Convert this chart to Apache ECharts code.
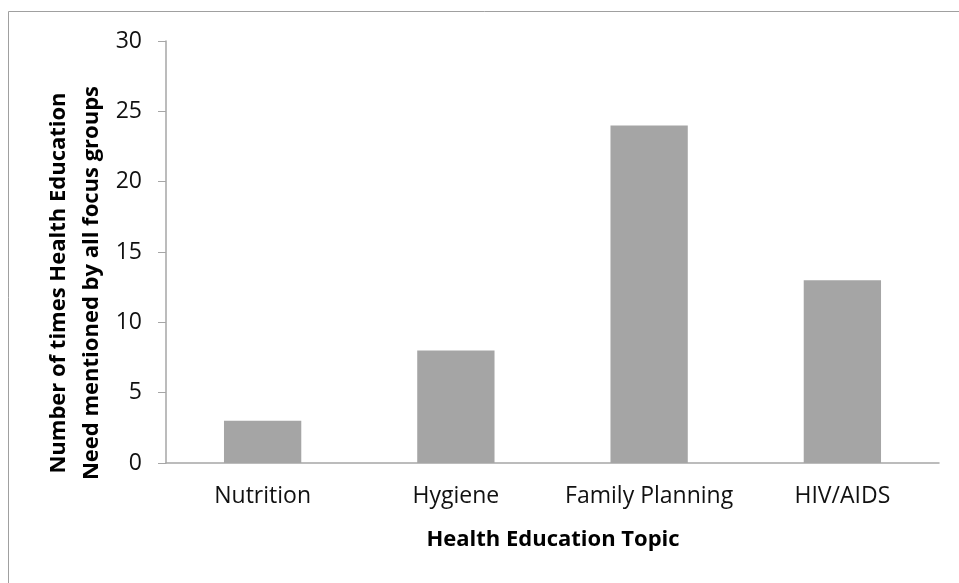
<!DOCTYPE html>
<html>
<head>
<meta charset="utf-8">
<script src="https://cdn.jsdelivr.net/npm/echarts@6/dist/echarts.min.js"></script>
<style>
  html, body { margin: 0; padding: 0; background: #fff; }
  #chart { width: 959px; height: 583px; }
</style>
</head>
<body>
<div id="chart"></div>
<script>
// data
const topics = ['Nutrition', 'Hygiene', 'Family Planning', 'HIV/AIDS']
const timesMentioned = [3, 8, 24, 13]
const yTicks = { min: 0, max: 30, step: 5 }

const xTitle = 'Health Education Topic'
const yTitle = 'Number of times Health Education\nNeed mentioned by all focus groups'

const font = '"Open Sans", "DejaVu Sans", sans-serif'
const axisGray = '#a6a6a6'

const chart = echarts.init(document.getElementById('chart'))

const option = {
  animation: false,
  backgroundColor: '#fff',
  grid: {
    left: 166,
    right: 20,
    top: 41,
    bottom: 120
  },
  xAxis: {
    type: 'category',
    data: topics,
    axisLine: { lineStyle: { color: axisGray, width: 1.5 } },
    axisTick: { show: false },
    axisLabel: {
      interval: 0,
      color: '#111',
      fontFamily: font,
      fontSize: 23,
      margin: 22
    }
  },
  yAxis: {
    type: 'value',
    min: yTicks.min,
    max: yTicks.max,
    interval: yTicks.step,
    splitLine: { show: false },
    axisLine: { show: true, lineStyle: { color: axisGray, width: 1.5 } },
    axisTick: { show: true, length: 8, lineStyle: { color: axisGray } },
    axisLabel: {
      color: '#111',
      fontFamily: font,
      fontSize: 23,
      margin: 24
    }
  },
  series: [{
    type: 'bar',
    data: timesMentioned,
    barCategoryGap: '60%',
    itemStyle: { color: '#a5a5a5' }
  }],
  graphic: [
    {
      // outer frame, open on the right and bottom like the picture
      type: 'rect',
      shape: { x: 8.5, y: 11.5, width: 1000, height: 1000 },
      style: { fill: 'none', stroke: '#a0a0a0', lineWidth: 1 },
      z: -1
    },
    {
      type: 'text',
      x: 553,
      y: 540,
      style: {
        text: xTitle,
        fill: '#000',
        font: 'bold 22px ' + font,
        textAlign: 'center',
        textVerticalAlign: 'middle'
      }
    },
    {
      type: 'text',
      x: 75,
      y: 283,
      rotation: Math.PI / 2,
      style: {
        text: yTitle,
        fill: '#000',
        font: 'bold 22px ' + font,
        lineHeight: 33,
        textAlign: 'center',
        textVerticalAlign: 'middle'
      }
    }
  ]
}

chart.setOption(option)

window.addEventListener('resize', () => {
  chart.resize()
})
</script>
</body>
</html>
